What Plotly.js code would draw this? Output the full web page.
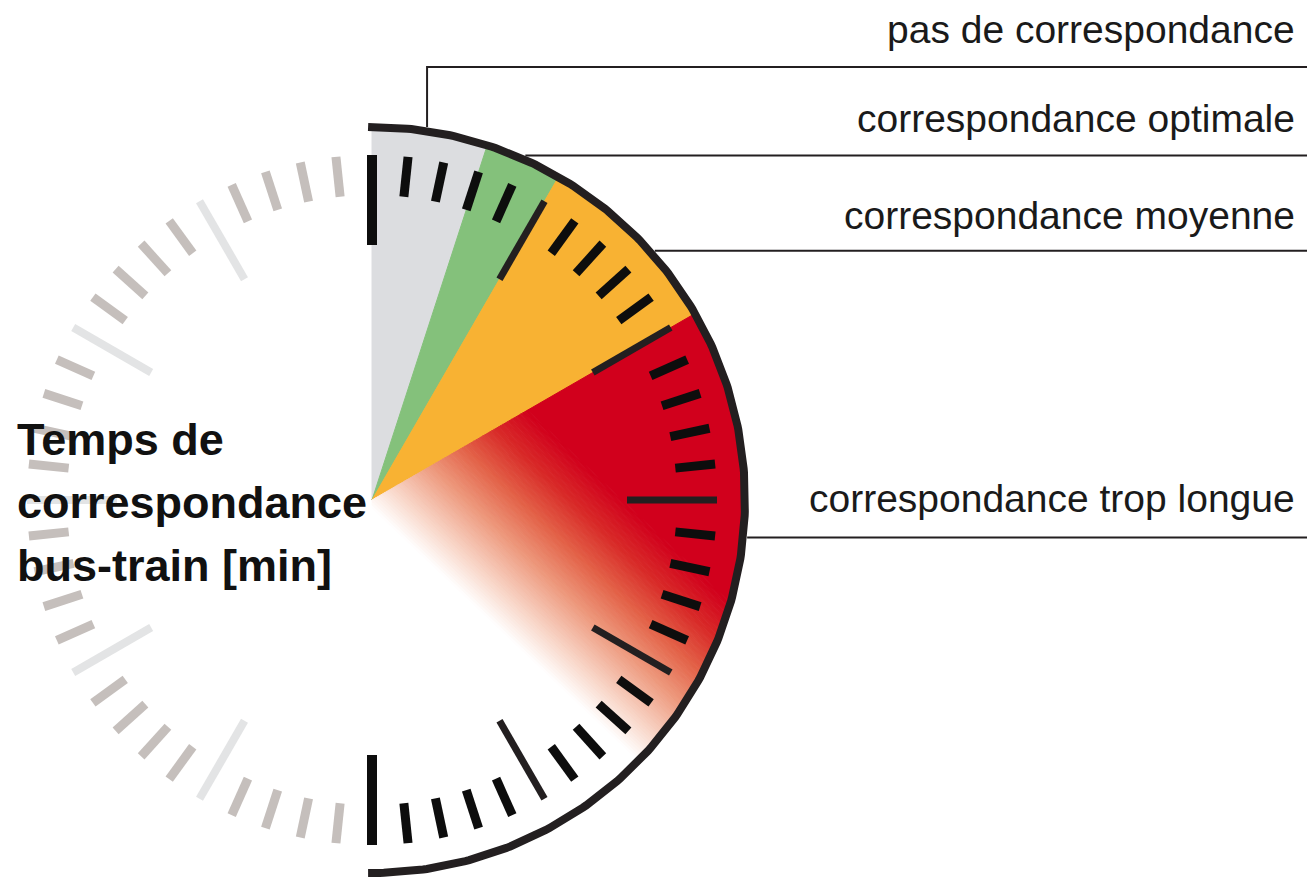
<!DOCTYPE html>
<html><head><meta charset="utf-8">
<script src="https://cdn.plot.ly/plotly-3.0.1.min.js"></script>
<style>html,body{margin:0;padding:0;background:#fff;overflow:hidden}#chart{width:1307px;height:878px}</style>
</head><body><div id="chart"></div>
<script>
// ---------------- data ----------------
const segmentNames  = ['pas de correspondance', 'correspondance optimale', 'correspondance moyenne', 'correspondance trop longue'];
const segmentStart  = [0, 3, 5, 10];     // minutes
const segmentEnd    = [3, 5, 10, 30];    // minutes
const segmentColors = ['#dcdde0', '#84c17b', '#f8b233', '#d1001c'];
const leaderMinute  = [1.4, 4.0, 8.1, 15.95];  // where each label's leader line touches the dial
const tickMinutes   = [0,1,2,3,4,5,6,7,8,9,10,11,12,13,14,15,16,17,18,19,20,21,22,23,24,25,26,27,28,29,
                       30,31,32,33,34,35,36,37,38,39,40,41,42,43,44,45,46,47,48,49,50,51,52,53,54,55,56,57,58,59];
const majorEvery    = 5;
const activeMaxMinute = 30;
const titleLines    = ['Temps de', 'correspondance', 'bus-train [min]'];

// ---------------- layout / style ----------------
const W = 1307, H = 878, CX = 372, CY = 500;
const G = {rFill: 370, rArc: 373, arcW: 8, rLeader: 377, rTickOut: 345, rMinorIn: 305, rMajorIn: 255,
           labelRight: 1297, labelBaseline: [43, 132, 229, 512], leaderElbow: [67, null, null, null],
           titleLeft: 15, titleBaseline: [455, 518, 581]};
const gradN = [0.688, 0.726], gradU0 = -6, gradU1 = 172, gradSteps = 72;
const gradStops = [[0, [255,255,255]], [0.15, [249,218,205]], [0.4, [237,152,124]], [0.6, [227,98,72]],
                   [0.8, [216,42,40]], [1, [209,0,28]]];

function hasFont(name) {
  const c = document.createElement('canvas').getContext('2d'); const s = 'correspondance bus-train [min]';
  c.font = 'bold 50px monospace'; const w0 = c.measureText(s).width;
  c.font = 'bold 50px "' + name + '", monospace'; return Math.abs(c.measureText(s).width - w0) > 0.5;
}
const narrow = hasFont('Liberation Sans Narrow');
const titleFont = narrow ? {family: 'Liberation Sans Narrow', size: 54} : {family: 'Liberation Sans, Arial, sans-serif', size: 45};

function pt(m, r) { const a = m * Math.PI / 30; return [r * Math.sin(a), r * Math.cos(a)]; }
function sectorPoly(m0, m1, r) {
  const poly = [[0, 0]]; const n = Math.max(2, Math.ceil((m1 - m0) * 8));
  for (let i = 0; i <= n; i++) poly.push(pt(m0 + (m1 - m0) * i / n, r));
  return poly;
}
function clip(poly, c, keepGreater) {
  const out = []; const f = p => (gradN[0] * p[0] + gradN[1] * p[1] - c) * (keepGreater ? 1 : -1);
  for (let i = 0; i < poly.length; i++) {
    const a = poly[i], b = poly[(i + 1) % poly.length]; const fa = f(a), fb = f(b);
    if (fa >= 0) out.push(a);
    if ((fa >= 0) !== (fb >= 0)) { const t = fa / (fa - fb); out.push([a[0] + t * (b[0] - a[0]), a[1] + t * (b[1] - a[1])]); }
  }
  return out;
}
function gradColor(t) {
  for (let i = 1; i < gradStops.length; i++) {
    if (t <= gradStops[i][0]) {
      const [t0, c0] = gradStops[i - 1], [t1, c1] = gradStops[i]; const k = (t - t0) / (t1 - t0);
      return 'rgb(' + c0.map((v, j) => Math.round(v + k * (c1[j] - v))).join(',') + ')';
    }
  }
  return 'rgb(' + gradStops[gradStops.length - 1][1].join(',') + ')';
}
function polyTrace(poly, color) {
  const xs = poly.map(p => p[0]), ys = poly.map(p => p[1]);
  xs.push(xs[0]); ys.push(ys[0]);
  return {type: 'scatter', mode: 'lines', x: xs, y: ys, fill: 'toself', fillcolor: color,
          line: {color: color, width: 1}, hoverinfo: 'skip', showlegend: false};
}

const traces = [];
// wedges
segmentStart.forEach((m0, i) => {
  const poly = sectorPoly(m0, segmentEnd[i], G.rFill);
  if (i < segmentStart.length - 1) { traces.push(polyTrace(poly, segmentColors[i])); return; }
  // last segment: linear fade from red to white
  for (let s = 0; s < gradSteps; s++) {
    const a = gradU0 + (gradU1 - gradU0) * s / gradSteps, b = gradU0 + (gradU1 - gradU0) * (s + 1) / gradSteps;
    const strip = clip(clip(poly, a, true), b, false);
    if (strip.length > 2) traces.push(polyTrace(strip, gradColor((s + 0.5) / gradSteps)));
  }
  const solid = clip(poly, gradU1, true);
  if (solid.length > 2) traces.push(polyTrace(solid, segmentColors[i]));
});

// ticks
const groups = {
  actMinor: {color: '#0d0d0d', width: 9, x: [], y: []},
  actMajor: {color: '#231f20', width: 7, x: [], y: []},
  actEnd:   {color: '#0d0d0d', width: 10, x: [], y: []},
  offMinor: {color: '#c5bfbc', width: 9, x: [], y: []},
  offMajor: {color: '#e3e4e5', width: 8, x: [], y: []}
};
tickMinutes.forEach(m => {
  const major = m % majorEvery === 0, active = m <= activeMaxMinute;
  let g;
  if (active) g = (m === 0 || m === activeMaxMinute) ? groups.actEnd : (major ? groups.actMajor : groups.actMinor);
  else g = major ? groups.offMajor : groups.offMinor;
  const p0 = pt(m, major ? G.rMajorIn : G.rMinorIn), p1 = pt(m, G.rTickOut);
  g.x.push(p0[0], p1[0], null); g.y.push(p0[1], p1[1], null);
});
Object.values(groups).forEach(g => traces.push({type: 'scatter', mode: 'lines', x: g.x, y: g.y,
  line: {color: g.color, width: g.width}, hoverinfo: 'skip', showlegend: false}));

// outer arc
const arc = {x: [], y: []};
for (let i = 0; i <= 300; i++) { const p = pt(-0.1 + (activeMaxMinute + 0.2) * i / 300, G.rArc); arc.x.push(p[0]); arc.y.push(p[1]); }
traces.push({type: 'scatter', mode: 'lines', x: arc.x, y: arc.y, line: {color: '#231f20', width: G.arcW},
  hoverinfo: 'skip', showlegend: false});

// leader lines
const rightX = W - CX;
leaderMinute.forEach((m, i) => {
  const p = pt(m, G.rLeader);
  const xs = [p[0]], ys = [p[1]];
  if (G.leaderElbow[i] !== null) { xs.push(p[0]); ys.push(CY - G.leaderElbow[i]); }
  xs.push(rightX); ys.push(ys[ys.length - 1]);
  traces.push({type: 'scatter', mode: 'lines', x: xs, y: ys, line: {color: '#231f20', width: 2},
    hoverinfo: 'skip', showlegend: false});
});

// annotations
const annotations = [];
const fsLab = 39;
segmentNames.forEach((name, i) => annotations.push({
  xref: 'x', yref: 'y', x: G.labelRight - CX, y: CY - G.labelBaseline[i] + 0.3465 * fsLab,
  xanchor: 'right', yanchor: 'middle', showarrow: false, text: name,
  font: {family: 'Liberation Sans, Arial, sans-serif', size: fsLab, color: '#1a1a1a'}}));
titleLines.forEach((t, i) => annotations.push({
  xref: 'x', yref: 'y', x: G.titleLeft - CX, y: CY - G.titleBaseline[i] + 0.3465 * titleFont.size,
  xanchor: 'left', yanchor: 'middle', showarrow: false, text: '<b>' + t + '</b>',
  font: {family: titleFont.family, size: titleFont.size, color: '#111'}}));

const layout = {
  width: W, height: H, margin: {l: 0, r: 0, t: 0, b: 0}, paper_bgcolor: '#fff', plot_bgcolor: '#fff',
  xaxis: {range: [-CX, W - CX], visible: false, fixedrange: true},
  yaxis: {range: [CY - H, CY], visible: false, fixedrange: true},
  showlegend: false, annotations: annotations, hovermode: false
};
Plotly.newPlot('chart', traces, layout, {displayModeBar: false, staticPlot: true});
</script></body></html>
